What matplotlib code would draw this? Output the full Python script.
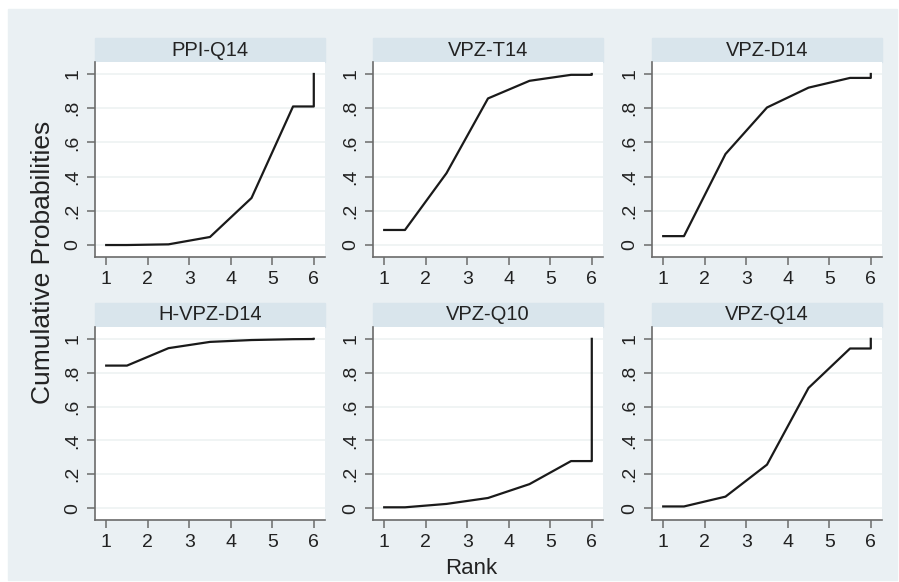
import numpy as np
import matplotlib
matplotlib.use("Agg")
import matplotlib.pyplot as plt

plt.rcParams['font.family'] = ['Liberation Sans', 'DejaVu Sans']

# rank positions used by the cumulative curve (last rank repeated for the jump to 1)
ranks = [1, 1.5, 2.5, 3.5, 4.5, 5.5, 6, 6]

titles = ["PPI-Q14", "VPZ-T14", "VPZ-D14", "H-VPZ-D14", "VPZ-Q10", "VPZ-Q14"]

ppi_q14 = [0.0, 0.0, 0.004, 0.047, 0.275, 0.81, 0.81, 1.0]
vpz_t14 = [0.088, 0.088, 0.42, 0.857, 0.96, 0.995, 0.995, 1.0]
vpz_d14 = [0.052, 0.052, 0.532, 0.804, 0.92, 0.977, 0.977, 1.0]
h_vpz_d14 = [0.842, 0.842, 0.945, 0.982, 0.993, 0.998, 0.999, 1.0]
vpz_q10 = [0.005, 0.005, 0.025, 0.06, 0.142, 0.278, 0.278, 1.0]
vpz_q14 = [0.01, 0.01, 0.068, 0.257, 0.71, 0.943, 0.943, 1.0]

series = [ppi_q14, vpz_t14, vpz_d14, h_vpz_d14, vpz_q10, vpz_q14]

yticks = [0, 0.2, 0.4, 0.6, 0.8, 1.0]
yticklabels = ["0", ".2", ".4", ".6", ".8", "1"]
xticks = [1, 2, 3, 4, 5, 6]

W, H = 899, 582
bg = "#eaf0f3"
strip = "#d9e5ec"
spine_col = "#6b6b6b"

fig = plt.figure(figsize=(W / 100, H / 100), dpi=100, facecolor="white")
# light panel behind everything
fig.patches.append(plt.Rectangle((8 / W, 1 - 580 / H), 889 / W, 571 / H,
                                 transform=fig.transFigure, color=bg, zorder=-10))

lefts = [95, 373, 652]
width = 230
rows = [(62, 257), (327, 520)]

for i, (title, vals) in enumerate(zip(titles, series)):
    r, c = divmod(i, 3)
    top, bot = rows[r]
    ax = fig.add_axes([lefts[c] / W, 1 - bot / H, width / W, (bot - top) / H])
    ax.set_facecolor("white")
    ax.plot(ranks, vals, color="#1a1a1a", lw=1.6)
    ax.set_xlim(0.73, 6.27)
    ax.set_ylim(-0.07, 1.07)
    ax.set_xticks(xticks)
    ax.set_yticks(yticks)
    ax.set_yticklabels(yticklabels, rotation=90, va="center")
    ax.grid(axis="y", color="#eef2f2", lw=1.2)
    ax.set_axisbelow(True)
    for s in ["top", "right"]:
        ax.spines[s].set_visible(False)
    for s in ["left", "bottom"]:
        ax.spines[s].set_color(spine_col)
        ax.spines[s].set_linewidth(1.2)
    ax.tick_params(colors=spine_col, labelcolor="#222222", labelsize=14,
                   length=6, width=1.1, pad=4)
    # title strip
    fig.patches.append(plt.Rectangle((lefts[c] / W, 1 - top / H), width / W, 24 / H,
                                     transform=fig.transFigure, color=strip, zorder=-5))
    fig.text((lefts[c] + width / 2) / W, 1 - (top - 12) / H, title,
             ha="center", va="center", fontsize=14.5, color="#222222")

fig.text(43 / W, 1 - 262 / H, "Cumulative Probabilities", rotation=90,
         ha="center", va="center", fontsize=19, color="#222222")
fig.text(471 / W, 1 - 569 / H, "Rank", ha="center", va="center",
         fontsize=16, color="#222222")

fig.savefig("out.png", dpi=100, facecolor="white")
